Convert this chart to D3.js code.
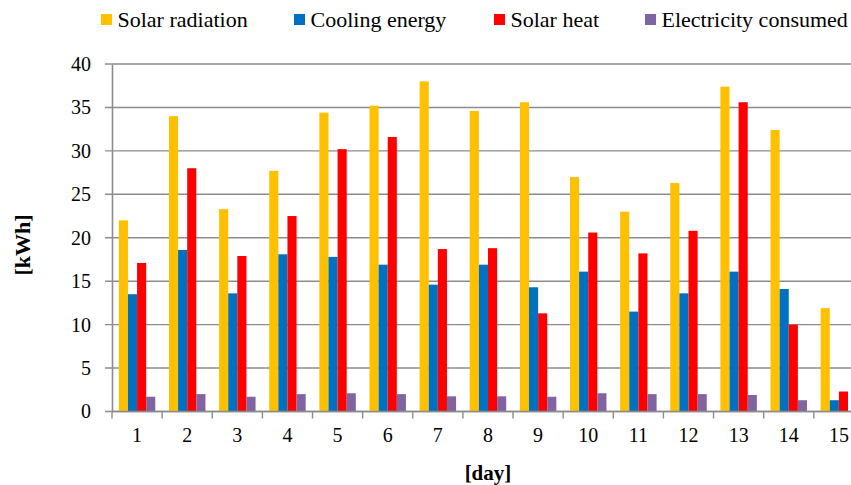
<!DOCTYPE html>
<html>
<head>
<meta charset="utf-8">
<script src="https://cdn.jsdelivr.net/npm/d3@7"></script>
<style>
  html, body { margin: 0; padding: 0; background: #fff; }
  svg { display: block; }
  svg text { font-family: "Liberation Serif", "Times New Roman", Times, "DejaVu Serif", serif; }
</style>
</head>
<body>
<svg id="chart" width="851" height="485"></svg>
<script>
const days = ["1","2","3","4","5","6","7","8","9","10","11","12","13","14","15"];
const seriesNames = ["Solar radiation", "Cooling energy", "Solar heat", "Electricity consumed"];
const seriesColors = ["#FFC000", "#0070C0", "#FF0000", "#8064A2"];
const solarRadiation = [22.0, 34.0, 23.3, 27.7, 34.4, 35.2, 38.0, 34.6, 35.6, 27.0, 23.0, 26.3, 37.4, 32.4, 11.9];
const coolingEnergy  = [13.5, 18.6, 13.6, 18.1, 17.8, 16.9, 14.6, 16.9, 14.3, 16.1, 11.5, 13.6, 16.1, 14.1, 1.3];
const solarHeat      = [17.1, 28.0, 17.9, 22.5, 30.2, 31.6, 18.7, 18.8, 11.3, 20.6, 18.2, 20.8, 35.6, 10.0, 2.3];
const electricity    = [1.7, 2.0, 1.7, 2.0, 2.1, 2.0, 1.75, 1.75, 1.7, 2.1, 2.0, 2.0, 1.9, 1.3, null];
const yTicks = [0, 5, 10, 15, 20, 25, 30, 35, 40];

const seriesValues = [solarRadiation, coolingEnergy, solarHeat, electricity];

const svg = d3.select("#chart");
const plotLeft = 112, plotTop = 64, plotBottom = 411.5;
const bandW = 50.13;
const plotRight = plotLeft + bandW * days.length;

const x0 = d3.scaleBand().domain(days).range([plotLeft, plotRight]).paddingInner(0).paddingOuter(0);
const x1 = d3.scaleBand().domain(seriesNames).range([0, x0.bandwidth()]).paddingInner(0).paddingOuter(0.75);
const y = d3.scaleLinear().domain([0, 40]).range([plotBottom, plotTop]);

const gridColor = "#8c8c8c";
const FONT = '"Liberation Serif", "Times New Roman", Times, "DejaVu Serif", serif';

// gridlines
svg.append("g").selectAll("line").data(yTicks).join("line")
  .attr("x1", plotLeft - 7).attr("x2", plotRight)
  .attr("y1", d => y(d)).attr("y2", d => y(d))
  .attr("stroke", gridColor).attr("stroke-width", 1.4);

// bars
const rows = [];
days.forEach((d, i) => {
  seriesNames.forEach((s, j) => {
    const v = seriesValues[j][i];
    if (v !== null && v !== undefined) rows.push({day: d, s, v, c: seriesColors[j]});
  });
});
svg.append("g").selectAll("rect").data(rows).join("rect")
  .attr("x", d => x0(d.day) + x1(d.s))
  .attr("width", x1.bandwidth())
  .attr("y", d => y(d.v))
  .attr("height", d => y(0) - y(d.v))
  .attr("fill", d => d.c);

// y axis
const yAxis = d3.axisLeft(y).tickValues(yTicks).tickSize(0).tickPadding(21);
const gy = svg.append("g").attr("transform", `translate(${plotLeft},0)`).call(yAxis);
gy.attr("font-family", FONT);
gy.select(".domain").attr("stroke", gridColor).attr("stroke-width", 1.6);
gy.selectAll("text").attr("font-size", 20).attr("fill", "#000").style("font-family", FONT);

// x axis
const xAxis = d3.axisBottom(x0).tickSize(0).tickPadding(16);
const gx = svg.append("g").attr("transform", `translate(0,${plotBottom})`).call(xAxis);
gx.attr("font-family", FONT);
gx.select(".domain").remove();
gx.append("line").attr("x1", plotLeft).attr("x2", plotRight).attr("y1", 0).attr("y2", 0)
  .attr("stroke", gridColor).attr("stroke-width", 1.6);
gx.selectAll(".tick text").attr("font-size", 20).attr("fill", "#000").style("font-family", FONT);
// boundary ticks
const bounds = days.map(d => x0(d)).concat([plotRight]);
gx.append("g").selectAll("line").data(bounds).join("line")
  .attr("x1", d => d).attr("x2", d => d).attr("y1", 0).attr("y2", 7)
  .attr("stroke", gridColor).attr("stroke-width", 1.4);

// axis titles
svg.append("text").attr("x", (plotLeft + plotRight) / 2).attr("y", 480)
  .attr("text-anchor", "middle").attr("font-size", 21).attr("font-weight", "bold")
  .style("font-family", FONT).text("[day]");
svg.append("text").attr("transform", "translate(30,245) rotate(-90)")
  .attr("text-anchor", "middle").attr("font-size", 22).attr("font-weight", "bold")
  .style("font-family", FONT).text("[kWh]");

// legend
const legendX = [101, 294, 494, 645];
const lg = svg.append("g");
seriesNames.forEach((s, j) => {
  lg.append("rect").attr("x", legendX[j]).attr("y", 14).attr("width", 11).attr("height", 11).attr("fill", seriesColors[j]);
  lg.append("text").attr("x", legendX[j] + 16.5).attr("y", 26.5).attr("font-size", 22).attr("fill", "#000")
    .style("font-family", FONT).text(s);
});
</script>
</body>
</html>
